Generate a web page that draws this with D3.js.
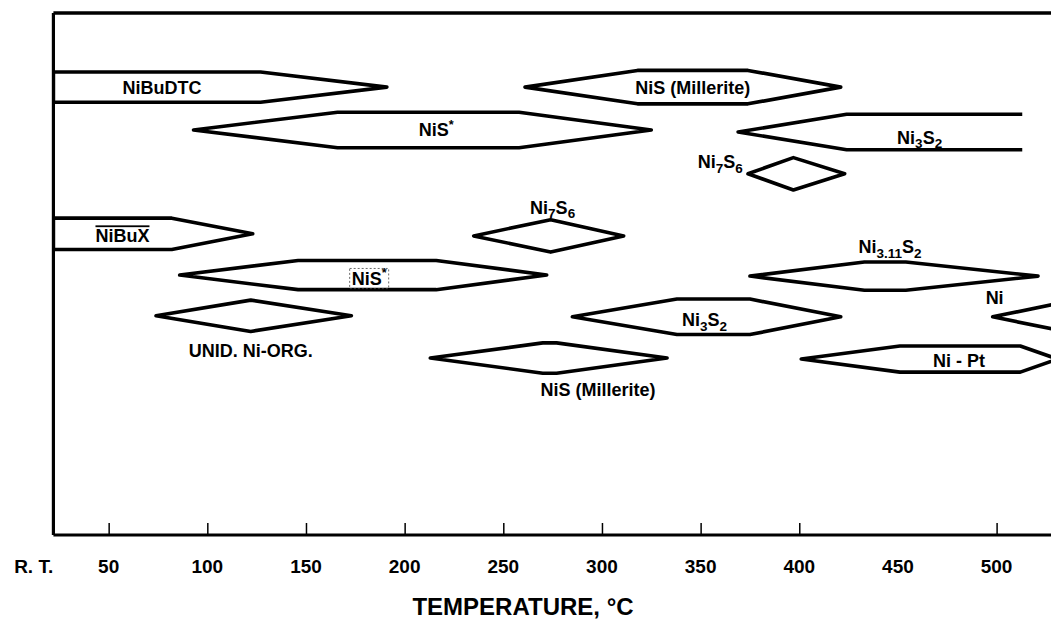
<!DOCTYPE html>
<html>
<head>
<meta charset="utf-8">
<script src="https://cdn.jsdelivr.net/npm/d3@7"></script>
<style>
  body { margin: 0; background: #fff; }
  svg { display: block; font-family: "Liberation Sans", Arial, sans-serif; font-weight: bold; }
</style>
</head>
<body>
<svg id="chart" width="1051" height="622"></svg>
<script>
// phases seen on heating (temperatures in deg C)
const phaseLabels = ["NiBuDTC", "NiS (Millerite)", "NiS^*", "Ni{3}S{2}", "Ni{7}S{6}", "NiBuX", "Ni{7}S{6}",
  "NiS^*", "Ni{3.11}S{2}", "UNID. Ni-ORG.", "Ni{3}S{2}", "Ni", "NiS (Millerite)", "Ni - Pt"];
const tLeft  = [22, 261, 93, 369, 374, 22, 235, 86, 375, 74, 285, 498, 213, 401];
const tRise  = [22, 318, 166, 424, 397, 22, 274, 146, 433, 122, 338, 537, 270, 451];
const tFall  = [127, 374, 258, 513, 397, 82, 274, 216, 454, 122, 375, 600, 277, 512];
const tRight = [191, 421, 325, 513, 423, 123, 311, 272, 521, 173, 421, 640, 333, 531];
const openRight = [false, false, false, true, false, false, false, false, false, false, false, false, false, false];
// vertical placement (arbitrary units, 0 = bottom axis, 100 = top frame)
const rowLevel = [85.8, 85.8, 77.6, 77.2, 69.2, 57.7, 57.3, 49.8, 49.6, 42.0, 41.8, 41.8, 33.9, 33.7];
const halfHeight = [2.9, 3.2, 3.4, 3.4, 3.1, 3.0, 3.1, 2.8, 2.7, 3.0, 3.4, 3.0, 2.9, 2.5];
// label anchors
const labelT     = [77, 346, 216, 461, 360, 57, 275, 182, 446, 122, 352, 499, 298, 481];
const labelLevel = [85.8, 85.8, 77.6, 76.2, 71.5, 57.3, 62.8, 49.2, 55.2, 35.4, 41.2, 45.4, 27.8, 33.5];

const RT = 22;
const tickTemps = [50, 100, 150, 200, 250, 300, 350, 400, 500];
const tickLabels = ["R. T.", "50", "100", "150", "200", "250", "300", "350", "400", "450", "500"];
const tickLabelTemps = [12, 50, 100, 150, 200, 250, 300, 350, 400, 450, 500];

const svg = d3.select("#chart");
const W = 1051;
const frameTop = 13, frameBottom = 535;

const x = d3.scaleLinear().domain([0, 500]).range([10, 996.6]);
const y = d3.scaleLinear().domain([0, 100]).range([frameBottom, frameTop]);

svg.append("clipPath").attr("id", "clip")
  .append("rect").attr("x", x(RT)).attr("y", frameTop).attr("width", W - x(RT)).attr("height", frameBottom - frameTop);

// phase shapes
const idx = d3.range(phaseLabels.length);
svg.append("g").attr("clip-path", "url(#clip)")
  .selectAll("path")
  .data(idx)
  .join("path")
  .attr("fill", "none")
  .attr("stroke", "#000")
  .attr("stroke-width", 3.6)
  .attr("stroke-linejoin", "round")
  .attr("d", i => {
    const yc = y(rowLevel[i]);
    const yt = y(rowLevel[i] + halfHeight[i]);
    const yb = y(rowLevel[i] - halfHeight[i]);
    if (openRight[i]) {
      return `M${x(tFall[i])},${yt}L${x(tRise[i])},${yt}L${x(tLeft[i])},${yc}L${x(tRise[i])},${yb}L${x(tFall[i])},${yb}`;
    }
    return `M${x(tLeft[i])},${yc}L${x(tRise[i])},${yt}L${x(tFall[i])},${yt}L${x(tRight[i])},${yc}` +
      `L${x(tFall[i])},${yb}L${x(tRise[i])},${yb}Z`;
  });

// labels with sub/superscripts: {..} subscript, ^.. superscript
function addRich(sel, str) {
  const parts = str.match(/\{[^}]*\}|\^[^ ]+|[^{^]+/g);
  let shift = 0; // em offset carried from last segment
  parts.forEach(p => {
    const span = sel.append("tspan");
    if (p[0] === "{") {
      span.attr("font-size", "0.75em").text(p.slice(1, -1));
      if (0.25 - shift) span.attr("dy", `${(0.25 - shift) * 18}px`);
      shift = 0.25;
    } else if (p[0] === "^") {
      span.attr("font-size", "0.7em").text(p.slice(1));
      if (-0.4 - shift) span.attr("dy", `${(-0.4 - shift) * 18}px`);
      shift = -0.4;
    } else {
      span.text(p);
      if (shift) span.attr("dy", `${-shift * 18}px`);
      shift = 0;
    }
  });
}

const labels = svg.append("g")
  .selectAll("text")
  .data(idx)
  .join("text")
  .attr("x", i => x(labelT[i]))
  .attr("y", i => y(labelLevel[i]))
  .attr("dy", "0.36em")
  .attr("text-anchor", "middle")
  .attr("font-size", 18)
  .each(function(i) { addRich(d3.select(this), phaseLabels[i]); });

// overline on NiBuX, dotted box on the second NiS*
labels.filter(i => i === 5).attr("text-decoration", "overline");
const boxed = labels.filter(i => i === 7).node().getBBox();
svg.append("rect")
  .attr("x", boxed.x - 2).attr("y", boxed.y + 2)
  .attr("width", boxed.width + 4).attr("height", boxed.height - 2)
  .attr("fill", "none").attr("stroke", "#444").attr("stroke-width", 0.8)
  .attr("stroke-dasharray", "2,2");

// frame: top border and left axis
svg.append("line").attr("x1", x(RT)).attr("x2", W).attr("y1", frameTop).attr("y2", frameTop)
  .attr("stroke", "#000").attr("stroke-width", 3.5);
svg.append("line").attr("x1", x(RT)).attr("x2", x(RT)).attr("y1", frameTop).attr("y2", frameBottom)
  .attr("stroke", "#000").attr("stroke-width", 3.2);

// bottom axis with inward ticks
const axis = svg.append("g")
  .attr("transform", `translate(0,${frameBottom})`)
  .call(d3.axisBottom(x).tickValues(tickTemps).tickSize(-12).tickSizeOuter(0).tickFormat(""));
axis.select(".domain").attr("d", `M${x(RT)},0H${W}`).attr("stroke-width", 3.2);
axis.selectAll(".tick line").attr("stroke-width", 1.5);

svg.append("g")
  .selectAll("text")
  .data(tickLabels)
  .join("text")
  .attr("x", (d, i) => x(tickLabelTemps[i]))
  .attr("y", 566)
  .attr("dy", "0.36em")
  .attr("text-anchor", "middle")
  .attr("font-size", 19)
  .text(d => d);

svg.append("text")
  .attr("x", 523)
  .attr("y", 606)
  .attr("dy", "0.36em")
  .attr("text-anchor", "middle")
  .attr("font-size", 24)
  .text("TEMPERATURE, °C");
</script>
</body>
</html>
